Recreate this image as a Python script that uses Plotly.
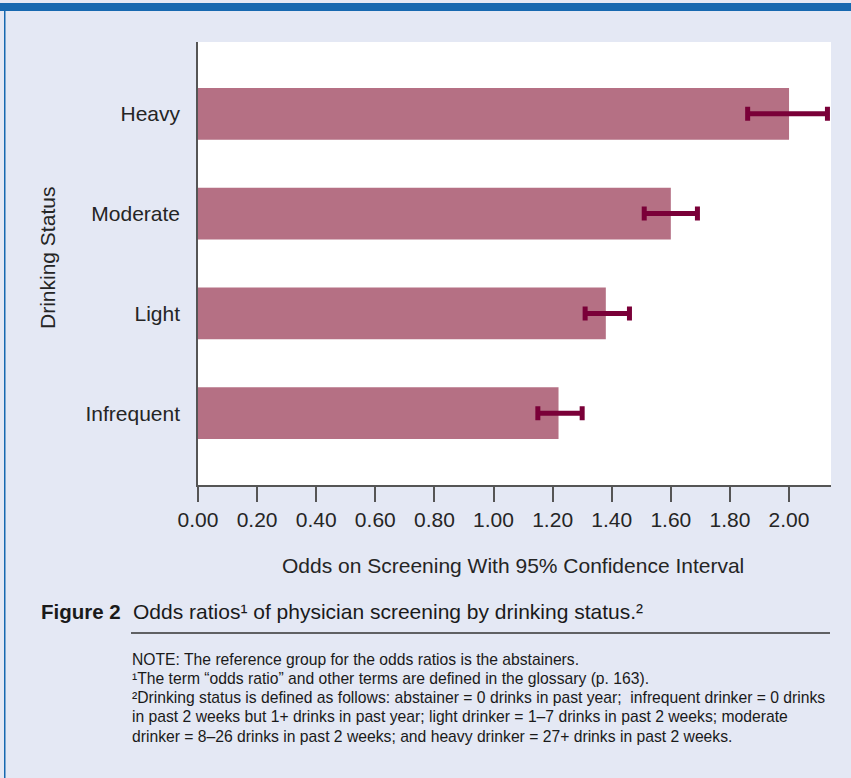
import plotly.graph_objects as go

# ---- data ----
categories = ["Infrequent", "Light", "Moderate", "Heavy"]
odds_ratio = [1.22, 1.38, 1.60, 2.00]
ci_low = [1.15, 1.31, 1.51, 1.86]
ci_high = [1.30, 1.46, 1.69, 2.13]
x_ticks = [0.0, 0.2, 0.4, 0.6, 0.8, 1.0, 1.2, 1.4, 1.6, 1.8, 2.0]
x_tick_labels = ["0.00", "0.20", "0.40", "0.60", "0.80", "1.00", "1.20", "1.40", "1.60", "1.80", "2.00"]

x_title = "Odds on Screening With 95% Confidence Interval"
y_title = "Drinking Status"
caption_bold = "Figure 2"
caption_text = "Odds ratios\u00b9 of physician screening by drinking status.\u00b2"
note_lines = [
    "NOTE: The reference group for the odds ratios is the abstainers.",
    "\u00b9The term \u201codds ratio\u201d and other terms are defined in the glossary (p. 163).",
    "\u00b2Drinking status is defined as follows: abstainer = 0 drinks in past year;  infrequent drinker = 0 drinks",
    "in past 2 weeks but 1+ drinks in past year; light drinker = 1\u20137 drinks in past 2 weeks; moderate",
    "drinker = 8\u201326 drinks in past 2 weeks; and heavy drinker = 27+ drinks in past 2 weeks.",
]

# ---- layout geometry (pixels) ----
W, H = 851, 778
L, R, T, B = 198, 831, 42, 485
pw, ph = R - L, B - T


def px(x):
    return (x - L) / pw


def py(y):
    return (B - y) / ph


FONT = "Liberation Sans, Arial, Helvetica, sans-serif"
TXT = "#252525"
BAR = "#B57084"
ERR = "#7A0038"
BG = "#E4E8F4"
AX = 21

err_plus = [h - v for h, v in zip(ci_high, odds_ratio)]
err_minus = [v - l for v, l in zip(odds_ratio, ci_low)]

fig = go.Figure()
fig.add_trace(go.Bar(
    y=categories, x=odds_ratio, orientation="h", width=0.52,
    marker=dict(color=BAR, line=dict(width=0)),
    error_x=dict(type="data", symmetric=False, array=err_plus, arrayminus=err_minus,
                 color=ERR, thickness=5, width=7),
    hoverinfo="x+y", showlegend=False,
))

annotations = [
    dict(text=y_title, xref="paper", yref="paper", x=px(47), y=py(258), textangle=-90,
         showarrow=False, xanchor="center", yanchor="middle", font=dict(size=AX, color=TXT)),
    dict(text=x_title, xref="paper", yref="paper", x=px(513), y=py(565),
         showarrow=False, xanchor="center", yanchor="middle", font=dict(size=AX, color=TXT)),
    dict(text="<b>" + caption_bold + "</b>", xref="paper", yref="paper", x=px(39), y=py(611),
         showarrow=False, xanchor="left", yanchor="middle", font=dict(size=20.5, color="#1a1a1a")),
    dict(text=caption_text, xref="paper", yref="paper", x=px(131), y=py(611),
         showarrow=False, xanchor="left", yanchor="middle", font=dict(size=21, color="#1a1a1a")),
]
for i, line in enumerate(note_lines):
    annotations.append(dict(text=line, xref="paper", yref="paper", x=px(130), y=py(659 + i * 19.3),
                            showarrow=False, xanchor="left", yanchor="middle", align="left",
                            font=dict(size=15.7, color="#1a1a1a")))

fig.update_layout(
    width=W, height=H,
    margin=dict(l=L, r=W - R, t=T, b=H - B, pad=0),
    paper_bgcolor=BG, plot_bgcolor="white",
    font=dict(family=FONT, color=TXT, size=AX),
    xaxis=dict(range=[0, 2.142], tickvals=x_ticks, ticktext=x_tick_labels,
               showgrid=False, zeroline=False, showline=True, linecolor="#555555", linewidth=1.5,
               ticks="outside", ticklen=15, tickwidth=1.5, tickcolor="#555555",
               tickfont=dict(size=AX, color=TXT), fixedrange=True),
    yaxis=dict(categoryorder="array", categoryarray=categories, range=[-0.72, 3.72],
               showgrid=False, zeroline=False, showline=True, linecolor="#555555", linewidth=1.5,
               ticks="", ticklabelstandoff=12, tickfont=dict(size=AX, color=TXT), fixedrange=True),
    shapes=[
        dict(type="rect", xref="paper", yref="paper", x0=px(0), x1=px(W), y0=py(11), y1=py(3),
             fillcolor="#1668B0", line=dict(width=0), layer="above"),
        dict(type="rect", xref="paper", yref="paper", x0=px(4), x1=px(5.5), y0=py(H + 5), y1=py(11),
             fillcolor="#1668B0", line=dict(width=0), layer="above"),
        dict(type="line", xref="paper", yref="paper", x0=px(131), x1=px(830), y0=py(633), y1=py(633),
             line=dict(color="#333333", width=1.5)),
    ],
    annotations=annotations,
)

fig.write_html("out.html")
